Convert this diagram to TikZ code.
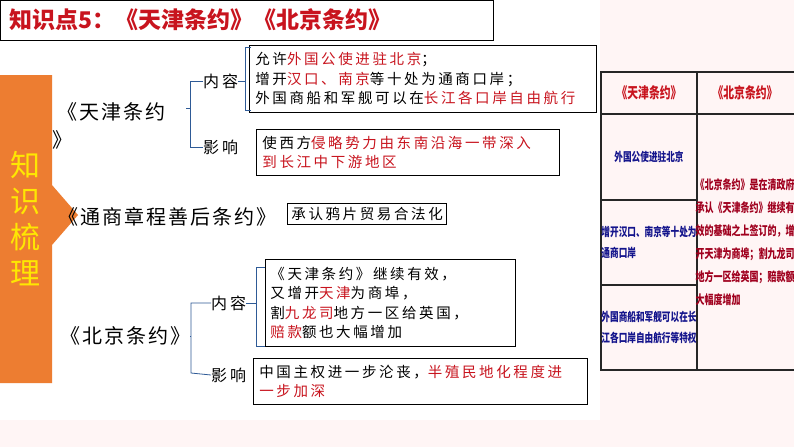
\documentclass[tikz,border=0pt]{standalone}
\usepackage{fontspec}
\setmainfont{Noto Sans CJK SC}
\newfontfamily\bodyfont[LetterSpace=18]{Noto Sans CJK SC}
\newfontfamily\headfont[LetterSpace=10]{Noto Sans CJK SC}
\usetikzlibrary{positioning}
\definecolor{hlred}{RGB}{200,20,30}
\definecolor{barorg}{RGB}{237,125,49}
\definecolor{brkblue}{RGB}{46,90,150}
\definecolor{tblblue}{RGB}{20,20,140}
\definecolor{tblred}{RGB}{160,0,30}
\newcommand\hl[1]{\textcolor{hlred}{#1}}
\newcommand\nrw[1]{\scalebox{0.72}[1]{#1}}
\tikzset{
    bodybox/.style={draw,thick,anchor=north west,align=left,inner sep=6pt,font=\bodyfont\fontsize{14.5}{19.5}\selectfont},
    treaty/.style={anchor=west,inner sep=0pt,font=\headfont\fontsize{20}{28}\selectfont},
    branch/.style={anchor=west,inner sep=0pt,font=\bodyfont\fontsize{16}{18}\selectfont},
    brk/.style={draw=brkblue,thick},
    tblline/.style={draw=black!85,line width=1.6pt},
    tblhead/.style={text=hlred,font=\bfseries\fontsize{15}{17}\selectfont},
    tblcell/.style={text=tblblue,align=left,font=\bfseries\fontsize{12}{21}\selectfont},
}
\begin{document}
\begin{tikzpicture}[x=1pt,y=-1pt]
    \useasboundingbox (0,0) rectangle (794,447);
    \fill[white] (0,0) rectangle (794,447);
    \fill[red!4] (600,0) rectangle (794,447);
    \fill[red!4] (0,420) rectangle (794,447);
    % title
    \draw[fill=white,thick] (0,0) rectangle (493,40);
    \node[anchor=west,text=hlred,font=\bfseries\fontsize{23}{26}\selectfont] (title) at (6,20) {知识点5：《天津条约》《北京条约》};
    % side bar
    \fill[barorg] (0,75) -- (52,75) -- (52,185) -- (78,215) -- (52,245) -- (52,383) -- (0,383) -- cycle;
    \node[text=yellow!90!orange,align=center,font=\fontsize{30}{36}\selectfont] (side) at (25,219) {知\\识\\梳\\理};

    % Tianjin
    \node[treaty] (tj) at (57,112) {《天津条约};
    \node[treaty] (tjend) at (52,140) {》};
    \node[branch] (tjnr) at (203,81) {内容};
    \node[branch] (tjyx) at (203,147) {影响};
    \node[bodybox,text width=335pt,minimum height=67pt] (tjbox1) at (249,45)
        {允许\hl{外国公使进驻北京}；\\增开\hl{汉口、南京}等十处为通商口岸；\\外国商船和军舰可以在\hl{长江各口岸自由航行}};
    \node[bodybox,text width=291pt,minimum height=46pt] (tjbox2) at (256,129)
        {使西方\hl{侵略势力由东南沿海一带深入}\\\hl{到长江中下游地区}};
    \coordinate (tjb) at (190,108);
    \draw[brk] (186,108) -- (tjb);
    \draw[brk] (tjnr.west) -- (190,81) -- (190,147) -- (tjyx.west);
    \draw[brk] (tjnr.east) -- (245,81);
    \draw[brk] (251,47) -- (245,47) -- (245,110) -- (251,110);

    % Tongshang
    \node[treaty] (ts) at (58,217) {《通商章程善后条约》};
    \node[bodybox,anchor=west,inner sep=4pt] (tsbox) at (287,214) {承认鸦片贸易合法化};

    % Beijing
    \node[treaty] (bj) at (60,336) {《北京条约》};
    \node[branch] (bjnr) at (211,303) {内容};
    \node[branch] (bjyx) at (211,375) {影响};
    \node[bodybox,text width=240pt,minimum height=87pt,inner sep=5pt] (bjbox1) at (265,259)
        {《天津条约》继续有效，\\又增开\hl{天津}为商埠，\\割\hl{九龙司}地方一区给英国，\\\hl{赔款}额也大幅增加};
    \node[bodybox,text width=322pt,minimum height=46pt] (bjbox2) at (253,358)
        {中国主权进一步沦丧，\hl{半殖民地化程度进}\\\hl{一步加深}};
    \draw[brk] (bj.east) -- (191,336);
    \draw[brk] (bjnr.west) -- (191,303) -- (191,373) -- (bjyx.west);
    \draw[brk] (bjnr.east) -- (256,303);
    \draw[brk] (265,267) -- (256,267) -- (256,346) -- (265,346);

    % table
    \draw[tblline] (601,72) rectangle (796,370);
    \draw[tblline] (697,72) -- (697,370);
    \draw[tblline] (601,114) -- (796,114);
    \draw[tblline] (601,200) -- (697,200);
    \draw[tblline] (601,285) -- (697,285);
    \node[tblhead] (hdtj) at (649,93) {\nrw{《天津条约》}};
    \node[tblhead] (hdbj) at (745,93) {\nrw{《北京条约》}};
    \node[tblcell,align=center] (ctj1) at (649,157) {\nrw{外国公使进驻北京}};
    \node[tblcell] (ctj2) at (649,242) {\nrw{增开汉口、南京等十处为}\\\nrw{通商口岸}};
    \node[tblcell] (ctj3) at (649,327) {\nrw{外国商船和军舰可以在长}\\\nrw{江各口岸自由航行等特权}};
    \node[tblcell,text=tblred,font=\bfseries\fontsize{12.5}{23}\selectfont] (cbj) at (745,242)
        {\nrw{《北京条约》是在清政府}\\\nrw{承认《天津条约》继续有}\\\nrw{效的基础之上签订的，增}\\\nrw{开天津为商埠；割九龙司}\\\nrw{地方一区给英国；赔款额}\\\nrw{大幅度增加}};
\end{tikzpicture}
\end{document}
